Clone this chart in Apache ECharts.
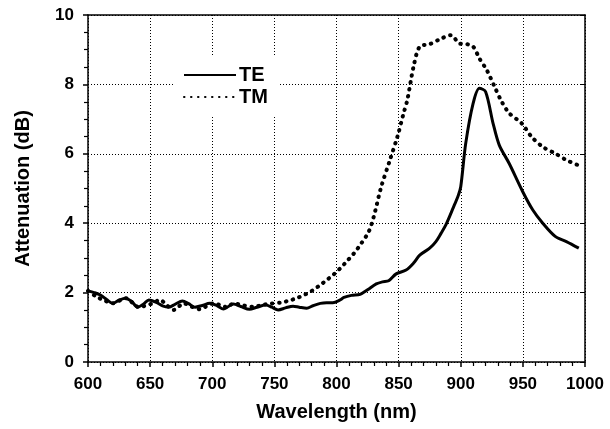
<!DOCTYPE html>
<html>
<head>
<meta charset="utf-8">
<script src="https://cdn.jsdelivr.net/npm/echarts@6/dist/echarts.min.js"></script>
<style>
  html, body { margin: 0; padding: 0; background: #fff; }
  #chart { width: 610px; height: 429px; }
</style>
</head>
<body>
<div id="chart"></div>
<script>
// values
var teWavelength = [600, 605, 610, 615, 620, 625, 630, 635, 640, 645, 649, 655, 660, 665, 670, 676, 681, 686, 692, 698,
    704, 709, 713, 717, 723, 730, 736, 743, 748, 753, 759, 765, 770, 776, 781, 787, 792, 797, 803, 806,
    812, 819, 825, 832, 837, 842, 848, 856, 862, 867, 875, 880, 884, 888, 894, 898, 900, 904, 910, 915,
    920, 926, 931, 939, 950, 958, 966, 976, 985, 995];
var teAtten = [2.05, 2.0, 1.93, 1.8, 1.69, 1.78, 1.84, 1.75, 1.58, 1.68, 1.79, 1.72, 1.62, 1.58, 1.66, 1.76, 1.68, 1.58, 1.63, 1.69,
    1.62, 1.53, 1.6, 1.67, 1.6, 1.52, 1.58, 1.64, 1.58, 1.5, 1.56, 1.61, 1.58, 1.55, 1.62, 1.69, 1.71, 1.71, 1.79, 1.86,
    1.92, 1.95, 2.08, 2.25, 2.31, 2.34, 2.54, 2.65, 2.85, 3.08, 3.28, 3.47, 3.7, 3.95, 4.45, 4.8, 5.05, 6.3, 7.46, 7.89,
    7.79, 6.88, 6.25, 5.72, 4.9, 4.38, 4.0, 3.62, 3.47, 3.28];

var tmWavelength = [600, 607, 613, 620, 626, 631, 636, 641, 646, 652, 658, 663, 669, 673, 677, 683, 690, 695, 701, 708,
    712, 717, 725, 733, 740, 746, 755, 762, 768, 775, 781, 787, 792, 797, 803, 808, 814, 820, 826, 830,
    836, 843, 849, 854, 857, 862, 867, 875, 883, 892, 899, 905, 910, 915, 921, 927, 933, 939, 949, 957,
    966, 976, 985, 996];
var tmAtten = [2.05, 1.88, 1.78, 1.69, 1.78, 1.84, 1.7, 1.58, 1.62, 1.69, 1.79, 1.65, 1.5, 1.6, 1.69, 1.6, 1.52, 1.6, 1.69, 1.62,
    1.58, 1.69, 1.63, 1.59, 1.64, 1.68, 1.71, 1.77, 1.84, 1.95, 2.07, 2.22, 2.36, 2.5, 2.7, 2.89, 3.13, 3.42, 3.76, 4.19,
    5.05, 5.82, 6.49, 7.17, 7.55, 8.51, 9.09, 9.16, 9.3, 9.42, 9.18, 9.16, 9.09, 8.75, 8.41, 7.95, 7.5, 7.17, 6.88, 6.49,
    6.2, 6.01, 5.82, 5.65];

function pairs(xs, ys) {
    return xs.map(function (x, i) { return [x, ys[i]]; });
}

var font = 'Liberation Sans';
var myChart = echarts.init(document.getElementById('chart'));
var option = {
    animation: false,
    backgroundColor: '#fff',
    grid: { left: 88, right: 25, top: 15, bottom: 67 },
    legend: {
        orient: 'vertical',
        left: 173,
        top: 55,
        padding: [10, 12, 10, 10],
        itemGap: 2,
        itemWidth: 52,
        itemHeight: 14,
        backgroundColor: '#fff',
        itemStyle: { opacity: 0, borderWidth: 0 },
        textStyle: { fontFamily: font, fontSize: 20, fontWeight: 'bold', color: '#000', padding: [0, 0, 0, -2] },
        data: ['TE', 'TM']
    },
    xAxis: [{
        type: 'value',
        min: 600,
        max: 1000,
        interval: 50,
        name: 'Wavelength (nm)',
        nameLocation: 'middle',
        nameGap: 40,
        nameTextStyle: { fontFamily: font, fontSize: 20, fontWeight: 'bold', color: '#000' },
        axisLine: { onZero: false, lineStyle: { color: '#000', width: 1.5 } },
        axisTick: { inside: false, length: 5, lineStyle: { color: '#000', width: 1.5 } },
        minorTick: { show: true, splitNumber: 5, length: 4, lineStyle: { color: '#000', width: 1.2 } },
        axisLabel: { fontFamily: font, fontSize: 17, fontWeight: 'bold', color: '#000', margin: 14,
            formatter: function (v) { return String(v); } },
        splitLine: { show: true, lineStyle: { color: '#000', width: 1, type: [1, 2] } }
    }, {
        type: 'value',
        position: 'top',
        min: 600,
        max: 1000,
        interval: 50,
        axisLine: { show: true, onZero: false, lineStyle: { color: '#000', width: 1.5 } },
        axisTick: { show: false },
        axisLabel: { show: false },
        splitLine: { show: false }
    }],
    yAxis: [{
        type: 'value',
        min: 0,
        max: 10,
        interval: 2,
        name: 'Attenuation (dB)',
        nameLocation: 'middle',
        nameGap: 55,
        nameTextStyle: { fontFamily: font, fontSize: 20, fontWeight: 'bold', color: '#000' },
        axisLine: { show: true, onZero: false, lineStyle: { color: '#000', width: 1.5 } },
        axisTick: { inside: false, length: 5, lineStyle: { color: '#000', width: 1.5 } },
        minorTick: { show: true, splitNumber: 4, length: 4, lineStyle: { color: '#000', width: 1.2 } },
        axisLabel: { fontFamily: font, fontSize: 17, fontWeight: 'bold', color: '#000', margin: 14 },
        splitLine: { show: true, lineStyle: { color: '#000', width: 1, type: [1, 2] } }
    }, {
        type: 'value',
        position: 'right',
        min: 0,
        max: 10,
        interval: 2,
        axisLine: { show: true, onZero: false, lineStyle: { color: '#000', width: 1.5 } },
        axisTick: { show: true, inside: true, length: 4, lineStyle: { color: '#000', width: 1 } },
        minorTick: { show: false },
        axisLabel: { show: false },
        splitLine: { show: false }
    }],
    series: [{
        name: 'TE',
        type: 'line',
        symbol: 'none',
        smooth: 0.3,
        z: 4,
        lineStyle: { color: '#000', width: 3 },
        itemStyle: { color: '#000' },
        data: pairs(teWavelength, teAtten)
    }, {
        name: 'TM',
        type: 'line',
        symbol: 'none',
        smooth: 0.3,
        z: 3,
        lineStyle: { color: '#000', width: 4, type: [0.5, 6.5], cap: 'round' },
        itemStyle: { color: '#000' },
        data: pairs(tmWavelength, tmAtten)
    }]
};
myChart.setOption(option);
window.addEventListener('resize', function () { myChart.resize(); });
</script>
</body>
</html>
